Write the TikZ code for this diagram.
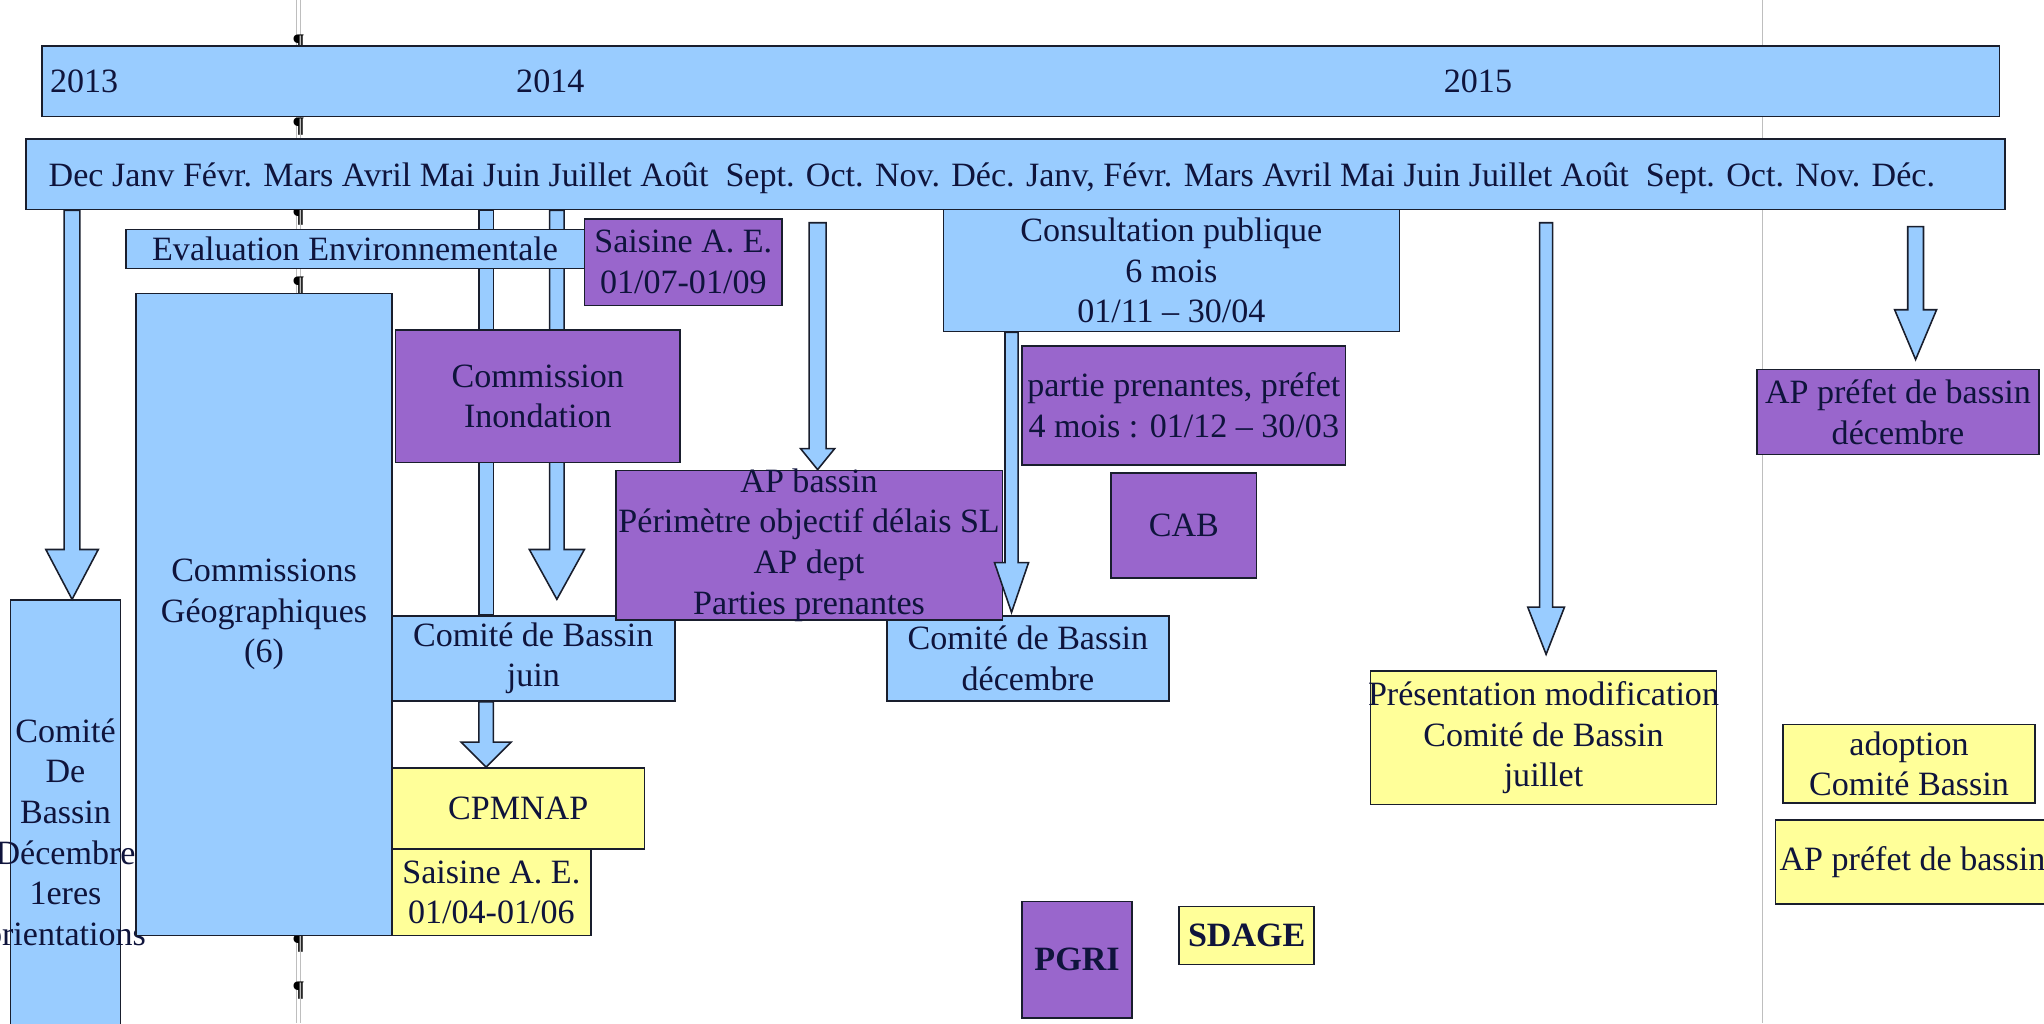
\documentclass[tikz,border=0pt]{standalone}
\usepackage{fontspec}
\setmainfont{Liberation Serif}
\usepackage{xcolor}
\usepackage{tikz}
\usetikzlibrary{
    positioning,
    calc,
    fit
}
\definecolor{boxBlue}{RGB}{153, 204, 255}
\definecolor{boxPurple}{RGB}{153, 102, 204}
\definecolor{boxYellow}{RGB}{255, 255, 153}
\definecolor{lineDark}{RGB}{25, 30, 45}
\definecolor{textDark}{RGB}{15, 20, 60}
\definecolor{pageGray}{RGB}{190, 190, 190}
\pgfdeclarelayer{back}
\pgfsetlayers{back,main}

% fat arrow: start, tip, shaft half width, head half width, head length
\newcommand{\blockarrow}[5]{%
    \path[barrow] let \p1 = #1, \p2 = #2 in
        (\x1-#3pt, \y1) -- (\x1+#3pt, \y1) -- (\x1+#3pt, \y2+#5pt) -- (\x1+#4pt, \y2+#5pt)
        -- (\x1, \y2) -- (\x1-#4pt, \y2+#5pt) -- (\x1-#3pt, \y2+#5pt) -- cycle;}
% fat bar without head: start, end, half width
\newcommand{\blockshaft}[3]{%
    \path[barrow] let \p1 = #1, \p2 = #2 in
        (\x1-#3pt, \y1) rectangle (\x1+#3pt, \y2);}

\begin{document}
\begin{tikzpicture}[x=1pt, y=-1pt,
        bbox/.style={draw=lineDark, line width=1.2pt, fill=boxBlue, inner sep=0pt},
        pbox/.style={bbox, fill=boxPurple},
        ybox/.style={bbox, fill=boxYellow},
        txt/.style={text=textDark, align=center, inner sep=0pt, font=\fontsize{26}{31}\selectfont},
        bold/.style={font=\fontsize{26}{31}\selectfont\bfseries},
        barrow/.style={draw=lineDark, line width=1.2pt, fill=boxBlue, line join=miter},
        pilcrow/.style={inner sep=0pt, font=\fontsize{17}{17}\selectfont\bfseries}
    ]
    \useasboundingbox (0,0) rectangle (1560,780.8);

    % years and months
    \node[bbox, fit={(32,35) (1526,89)}] (years) {};
    \node[txt, anchor=west] (y2013) at (38,62) {2013};
    \node[txt] (y2014) at (420,62) {2014};
    \node[txt] (y2015) at (1128,62) {2015};
    \node[bbox, fit={(20,106) (1530,160)}] (months) {};
    \node[txt] (monthNames) at (757,136) {Dec Janv Févr. Mars Avril Mai Juin Juillet Août\ \ Sept. Oct. Nov. Déc. Janv, Févr. Mars Avril Mai Juin Juillet Août\ \ Sept. Oct. Nov. Déc.};

    % left column
    \node[bbox, fit={(8,458) (92,800)}] (cbDec) {};
    \node[txt] (cbDecText) at (50,635) {Comité\\De\\Bassin\\Décembre\\1eres\\orientations};
    \node[bbox, fit={(104,224) (299,714)}] (comGeo) {};
    \node[txt] (comGeoText) at (comGeo) {Commissions\\Géographiques\\(6)};
    \node[bbox, fit={(96,175) (446,205)}] (evalEnv) {};
    \node[txt] (evalEnvText) at (evalEnv) {Evaluation Environnementale};
    \node[pbox, fit={(446,167) (597,233)}] (saisineA) {};
    \node[txt] (saisineAText) at (saisineA) {Saisine A. E.\\01/07-01/09};

    % 2014
    \node[pbox, fit={(302,252) (519,353)}] (comInond) {};
    \node[txt] (comInondText) at (comInond) {Commission\\Inondation};
    \node[bbox, fit={(299,470) (515,535)}] (cbJuin) {};
    \node[txt] (cbJuinText) at (cbJuin) {Comité de Bassin\\juin};
    \node[ybox, fit={(299,586) (492,648)}] (cpmnap) {};
    \node[txt] (cpmnapText) at (cpmnap) {CPMNAP};
    \node[ybox, fit={(299,648) (451,714)}] (saisineB) {};
    \node[txt] (saisineBText) at (saisineB) {Saisine A. E.\\01/04-01/06};
    \node[bbox, fit={(720,160) (1068,253)}] (consult) {};
    \node[txt] (consultText) at (consult) {Consultation publique\\6 mois\\01/11 – 30/04};
    \node[pbox, fit={(780,264) (1027,355)}] (partie) {};
    \node[txt] (partieText) at (partie) {partie prenantes, préfet\\4 mois : 01/12 – 30/03};
    \node[pbox, fit={(848,361) (959,441)}] (cab) {};
    \node[txt] (cabText) at (cab) {CAB};
    \node[bbox, fit={(677,470) (892,535)}] (cbDecembre) {};
    \node[txt] (cbDecembreText) at (cbDecembre) {Comité de Bassin\\décembre};
    \node[pbox, fit={(470,359) (765,473)}] (apBassin) {};
    \node[txt] (apBassinText) at (apBassin) {AP bassin\\Périmètre objectif délais SL\\AP dept\\Parties prenantes};

    % 2015
    \node[ybox, fit={(1046,512) (1310,614)}] (presModif) {};
    \node[txt] (presModifText) at (presModif) {Présentation modification\\Comité de Bassin\\juillet};
    \node[pbox, fit={(1341,282) (1556,347)}] (apPrefet) {};
    \node[txt] (apPrefetText) at (apPrefet) {AP préfet de bassin\\décembre};
    \node[ybox, fit={(1361,553) (1553,613)}] (adoption) {};
    \node[txt] (adoptionText) at (adoption) {adoption\\Comité Bassin};
    \node[ybox, fit={(1355,626) (1575,690)}] (apPrefetB) {};
    \node[txt, anchor=west] (apPrefetBText) at (1358,658) {AP préfet de bassin};

    % legend
    \node[pbox, fit={(780,688) (864,777)}] (pgri) {};
    \node[txt, bold] (pgriText) at (pgri) {PGRI};
    \node[ybox, fit={(900,692) (1003,736)}] (sdage) {};
    \node[txt, bold] (sdageText) at (sdage) {SDAGE};

    % arrows
    \blockarrow{(55,0 |- months.south)}{(55,0 |- cbDec.north)}{6}{20}{38}
    \blockarrow{(371,0 |- cbJuin.south)}{(371,0 |- cpmnap.north)}{5.5}{19}{19}
    \coordinate (apIn) at (624,170);
    \blockarrow{(apIn)}{(624,0 |- apBassin.north)}{6.5}{13}{16}
    \blockarrow{(772,0 |- consult.south)}{($(772,0 |- cbDecembre.north)+(0,-2)$)}{5}{13}{38}
    \coordinate (presIn) at (1180,170);
    \blockarrow{(presIn)}{($(1180,0 |- presModif.north)+(0,-12)$)}{5}{14}{36}
    \coordinate (prefIn) at (1462,173);
    \blockarrow{(prefIn)}{($(1462,0 |- apPrefet.north)+(0,-7)$)}{6}{16}{38}

    \begin{pgfonlayer}{back}
        % page marks
        \draw[pageGray, line width=0.8pt] (226.5,0) -- (226.5,781) (229.5,0) -- (229.5,781);
        \draw[pageGray, line width=0.8pt] (1345,0) -- (1345,781);
        \foreach \y [count=\i] in {33, 97, 165, 218, 720, 756}
            \node[pilcrow] (pil\i) at (228,\y) {\P};
        % bars behind the boxes
        \blockshaft{(371,0 |- months.south)}{(371,0 |- cbJuin.north)}{5.5}
        \blockarrow{(425,0 |- months.south)}{($(425,0 |- cbJuin.north)+(0,-12)$)}{5.5}{21}{38}
    \end{pgfonlayer}
\end{tikzpicture}
\end{document}
